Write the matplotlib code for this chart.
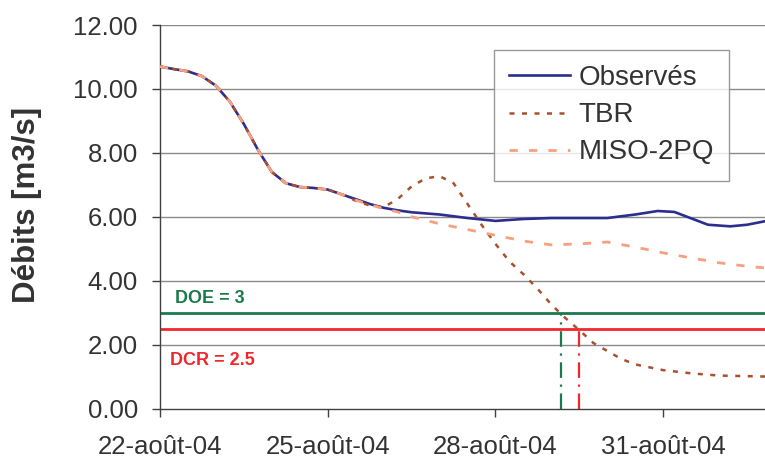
import matplotlib
matplotlib.use("Agg")
import matplotlib.pyplot as plt

plt.rcParams['font.family'] = ['Liberation Sans', 'DejaVu Sans']

# Data (days since 22-aout-04)
obs_days = [0, 0.25, 0.5, 0.75, 1.0, 1.25, 1.5, 1.75, 2.0, 2.25, 2.5, 2.75, 3.0,
            3.25, 3.5, 3.75, 4.0, 4.25, 4.5, 5.0, 5.5, 6.0, 6.5, 7.0, 7.5, 8.0,
            8.5, 8.9, 9.2, 9.5, 9.8, 10.2, 10.5, 10.82]
obs_vals = [10.7, 10.62, 10.55, 10.4, 10.1, 9.6, 8.9, 8.1, 7.4, 7.05, 6.93, 6.9, 6.85,
            6.7, 6.55, 6.4, 6.28, 6.2, 6.14, 6.07, 5.96, 5.87, 5.93, 5.96, 5.96, 5.96,
            6.07, 6.18, 6.15, 5.95, 5.75, 5.7, 5.75, 5.86]

tbr_days = [0, 0.25, 0.5, 0.75, 1.0, 1.25, 1.5, 1.75, 2.0, 2.25, 2.5, 2.75, 3.0,
            3.25, 3.5, 3.75, 4.0, 4.25, 4.5, 4.75, 5.0, 5.25, 5.5, 5.75, 6.0, 6.25,
            6.5, 6.75, 7.0, 7.25, 7.5, 7.75, 8.0, 8.25, 8.5, 9.0, 9.5, 10.0, 10.82]
tbr_vals = [10.7, 10.62, 10.55, 10.4, 10.1, 9.6, 8.9, 8.1, 7.4, 7.05, 6.93, 6.9, 6.85,
            6.7, 6.5, 6.35, 6.3, 6.55, 6.95, 7.2, 7.27, 7.05, 6.4, 5.75, 5.15, 4.6,
            4.2, 3.75, 3.25, 2.83, 2.45, 2.05, 1.8, 1.55, 1.38, 1.2, 1.1, 1.03, 1.0]

miso_days = [0, 0.25, 0.5, 0.75, 1.0, 1.25, 1.5, 1.75, 2.0, 2.25, 2.5, 2.75, 3.0,
             3.25, 3.5, 3.75, 4.0, 4.25, 4.5, 5.0, 5.5, 6.0, 6.5, 7.0, 7.5, 8.0,
             8.5, 9.0, 9.5, 10.0, 10.5, 10.82]
miso_vals = [10.7, 10.62, 10.55, 10.4, 10.1, 9.6, 8.9, 8.1, 7.4, 7.05, 6.93, 6.9, 6.85,
             6.7, 6.52, 6.38, 6.25, 6.15, 6.0, 5.78, 5.6, 5.42, 5.24, 5.12, 5.15, 5.21,
             5.05, 4.87, 4.71, 4.56, 4.45, 4.4]

doe = 3.0
dcr = 2.5
doe_cross = 7.17
dcr_cross = 7.5

x_ticks = [0, 3, 6, 9]
x_labels = ["22-août-04", "25-août-04", "28-août-04", "31-août-04"]
y_ticks = [0, 2, 4, 6, 8, 10, 12]

c_obs = "#2b2d8f"
c_tbr = "#a8512f"
c_miso = "#f7a07f"
c_doe = "#1b7a4b"
c_dcr = "#f0282d"

fig = plt.figure(figsize=(7.65, 4.59), dpi=100)
ax = fig.add_axes([160 / 765, 1 - 408.5 / 459, 1 - 160 / 765, (408.5 - 25) / 459])

for y in y_ticks[1:]:
    ax.axhline(y, color="#8a8a8a", lw=1.0, zorder=0)

ax.axhline(doe, color=c_doe, lw=2.0, zorder=1)
ax.axhline(dcr, color=c_dcr, lw=2.0, zorder=1)
ax.plot([doe_cross, doe_cross], [0, doe], color=c_doe, lw=1.6, ls=(0, (7, 3, 1, 3)))
ax.plot([dcr_cross, dcr_cross], [0, dcr], color=c_dcr, lw=1.6, ls=(0, (7, 3, 1, 3)))

ax.plot(obs_days, obs_vals, color=c_obs, lw=1.9, label="Observés", zorder=3)
ax.plot(tbr_days, tbr_vals, color=c_tbr, lw=1.8, ls=(0, (2, 3)), label="TBR", zorder=4)
ax.plot(miso_days, miso_vals, color=c_miso, lw=2.0, ls=(0, (3, 4)), label="MISO-2PQ", zorder=5)

ax.text(0.27, 3.43, "DOE = 3", color=c_doe, fontsize=13, fontweight="bold", va="center")
ax.text(0.18, 1.51, "DCR = 2.5", color=c_dcr, fontsize=13, fontweight="bold", va="center")

ax.set_xlim(0, 10.82)
ax.set_ylim(0, 12)
ax.set_xticks(x_ticks)
ax.set_xticklabels(x_labels)
ax.set_yticks(y_ticks)
ax.set_yticklabels([f"{v:.2f}" for v in y_ticks])
ax.tick_params(axis="both", labelsize=18.5, colors="#404040", labelcolor="#333333",
               length=6, width=1)
ax.tick_params(axis="y", pad=10)
ax.tick_params(axis="x", pad=13)

for s in ["top", "right"]:
    ax.spines[s].set_visible(False)
for s in ["left", "bottom"]:
    ax.spines[s].set_color("#404040")
    ax.spines[s].set_linewidth(1.0)

ax.set_ylabel("Débits [m3/s]", fontsize=22.5, fontweight="bold", color="#333333")
ax.yaxis.set_label_coords(-(160 - 42) / 605, 0.53)

leg = ax.legend(loc="upper left", bbox_to_anchor=(0.552, 0.935), fontsize=20,
                frameon=True, fancybox=False, handlelength=2.2, handletextpad=0.3,
                labelspacing=0.4, borderpad=0.55, borderaxespad=0)
leg.get_frame().set_edgecolor("#808080")
leg.get_frame().set_linewidth(1.0)
for t in leg.get_texts():
    t.set_color("#333333")

fig.savefig("out.png", dpi=100)
